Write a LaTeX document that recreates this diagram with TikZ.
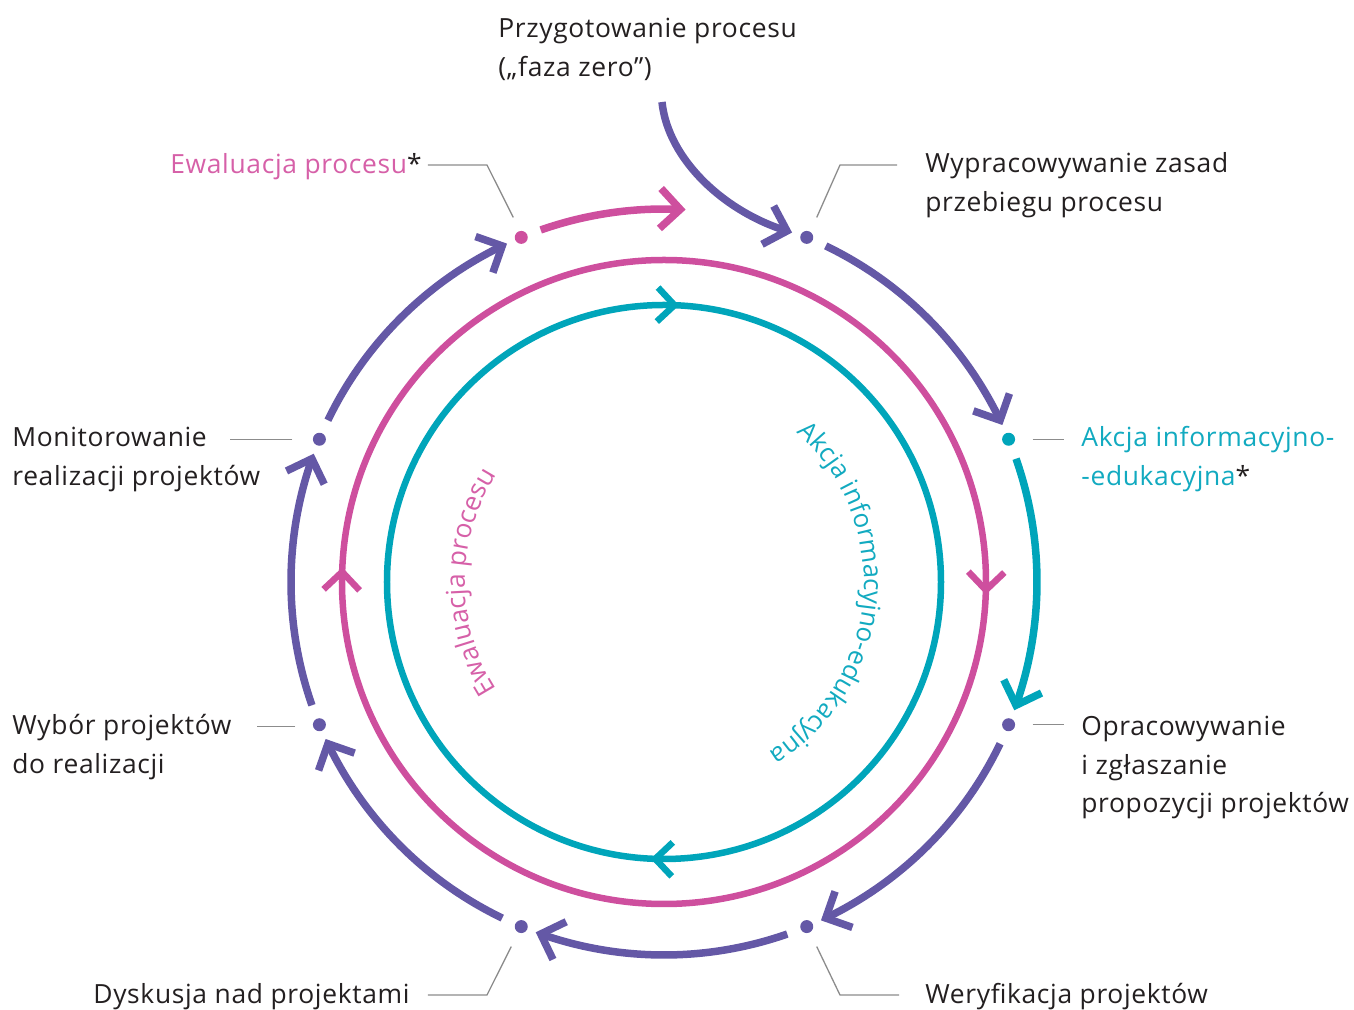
\documentclass[tikz,border=0pt]{standalone}
\usepackage{fontspec}
\setmainfont{Open Sans}[LetterSpace=2.5]
\newfontfamily\curvefont{Open Sans}
\usetikzlibrary{decorations.markings,decorations.text,calc}
\definecolor{cpurple}{RGB}{100,88,166}
\definecolor{cteal}{RGB}{0,165,186}
\definecolor{cmag}{RGB}{206,79,158}
\definecolor{tmag}{RGB}{214,96,168}
\definecolor{tteal}{RGB}{18,170,192}
\definecolor{cgray}{RGB}{140,140,140}
\definecolor{ctext}{RGB}{35,31,32}
\begin{document}
\begin{tikzpicture}[x=0.5pt,y=0.5pt,
  lbl/.style={font=\fontsize{13.2}{19.25}\selectfont, text=ctext, align=left, inner sep=0pt, anchor=base west},
  dotnode/.style={circle, inner sep=0pt, minimum size=6.5pt, fill=#1},
  leader/.style={draw=cgray, line width=0.65pt},
  chevshape/.style={draw=#1, line width=3.75pt, line join=miter, line cap=butt},
  bigchev/.style={postaction={decorate}, decoration={markings, mark=at position 1 with {\draw[chevshape=#1] (-20,20)--(0,0)--(-20,-20);}}},
  parc/.style={draw=#1, line width=3.75pt, bigchev=#1},
  ring/.style={draw=#1, line width=3.25pt},
]
\useasboundingbox (-664,-428) rectangle (690,582);

% inner circles with mid arrows
\draw[ring=cteal, postaction={decorate}, decoration={markings,
  mark=at position 0.256 with {\draw[draw=cteal, line width=3.25pt, line join=miter] (-17,17)--(0,0)--(-17,-17);},
  mark=at position 0.755 with {\draw[draw=cteal, line width=3.25pt, line join=miter] (-17,17)--(0,0)--(-17,-17);}}]
  (180:277) arc[start angle=180, end angle=-180, radius=277];
\draw[ring=cmag, postaction={decorate}, decoration={markings,
  mark=at position 0.254 with {\draw[draw=cmag, line width=3.25pt, line join=miter] (-18,18)--(0,0)--(-18,-18);},
  mark=at position 0.755 with {\draw[draw=cmag, line width=3.25pt, line join=miter] (-18,18)--(0,0)--(-18,-18);}}]
  (90:322) arc[start angle=90, end angle=-270, radius=322];

% curved texts
\path[decorate, decoration={text along path, text align=center,
  text={|\curvefont\fontsize{13.2}{14}\selectfont\color{tmag}|Ewaluacja procesu}}]
  (215:199) arc[start angle=215, end angle=145, radius=199];
\path[decorate, decoration={text along path, text align=center,
  text={|\curvefont\fontsize{12.9}{14}\selectfont\color{tteal}|Akcja informacyjno-edukacyjna}}]
  (60:200) arc[start angle=60, end angle=-70, radius=200];

% dots
\node[dotnode=cpurple] (d1) at (67.5:373) {};
\node[dotnode=cteal]   (d2) at (22.5:373) {};
\node[dotnode=cpurple] (d3) at (-22.5:373) {};
\node[dotnode=cpurple] (d4) at (-67.5:373) {};
\node[dotnode=cpurple] (d5) at (-112.5:373) {};
\node[dotnode=cpurple] (d6) at (-157.5:373) {};
\node[dotnode=cpurple] (d7) at (157.5:373) {};
\node[dotnode=cmag]    (d8) at (112.5:373) {};

% outer arcs
\draw[parc=cpurple] (64.3:373) arc[start angle=64.3, end angle=25.7, radius=373];
\draw[parc=cteal] (19.3:373) arc[start angle=19.3, end angle=-19.3, radius=373];
\draw[parc=cpurple] (-25.7:373) arc[start angle=-25.7, end angle=-64.3, radius=373];
\draw[parc=cpurple] (-70.7:373) arc[start angle=-70.7, end angle=-109.3, radius=373];
\draw[parc=cpurple] (-115.7:373) arc[start angle=-115.7, end angle=-154.3, radius=373];
\draw[parc=cpurple] (-160.7:373) arc[start angle=-160.7, end angle=-199.3, radius=373];
\draw[parc=cpurple] (154.3:373) arc[start angle=154.3, end angle=115.7, radius=373];
\draw[parc=cmag] (109.3:373) arc[start angle=109.3, end angle=87.5, radius=373];

% entry curve
\coordinate (entry) at (-2,480);
\coordinate (entryEnd) at (123,351);
\draw[draw=cpurple, line width=3.75pt] (entry) .. controls (4,422) and (61,370) .. (entryEnd);
\draw[chevshape=cpurple, shift={(entryEnd)}, rotate=-17] (-20,20) -- (0,0) -- (-20,-20);

% labels
\node[lbl] (tprep) at (-166,505.5) {Przygotowanie procesu\\(„faza zero”)};
\node[lbl] (twyp) at (261,370.5) {Wypracowywanie zasad\\przebiegu procesu};
\node[lbl] (tewa) at (-494,408) {\textcolor{tmag}{Ewaluacja procesu}*};
\node[lbl] (takc) at (417,96.5) {\textcolor{tteal}{Akcja informacyjno-}\\\textcolor{tteal}{-edukacyjna}*};
\node[lbl] (tmon) at (-652,96.5) {Monitorowanie\\realizacji projektów};
\node[lbl] (twyb) at (-652,-191.5) {Wybór projektów\\do realizacji};
\node[lbl] (topr) at (417,-231) {Opracowywanie\\i zgłaszanie\\propozycji projektów};
\node[lbl] (twer) at (261,-421) {Weryfikacja projektów};
\node[lbl] (tdys) at (-571,-421) {Dyskusja nad projektami};

% leader lines
\draw[leader] (-236,417) -- (-177,417) -- ($(d8)+(-8,20)$);
\draw[leader] (233,417) -- (176,417) -- ($(d1)+(10,20)$);
\draw[leader] ($(d2)+(24,0)$) -- ($(d2)+(55,0)$);
\draw[leader] ($(d3)+(24,0)$) -- ($(d3)+(55,0)$);
\draw[leader] ($(d4)+(10,-20)$) -- (176,-413) -- (235,-413);
\draw[leader] ($(d5)+(-10,-20)$) -- (-177,-413) -- (-236,-413);
\draw[leader] ($(d7)+(-27,0)$) -- ($(d7)+(-89,0)$);
\draw[leader] ($(d6)+(-24,-2)$) -- ($(d6)+(-62,-2)$);
\end{tikzpicture}
\end{document}
